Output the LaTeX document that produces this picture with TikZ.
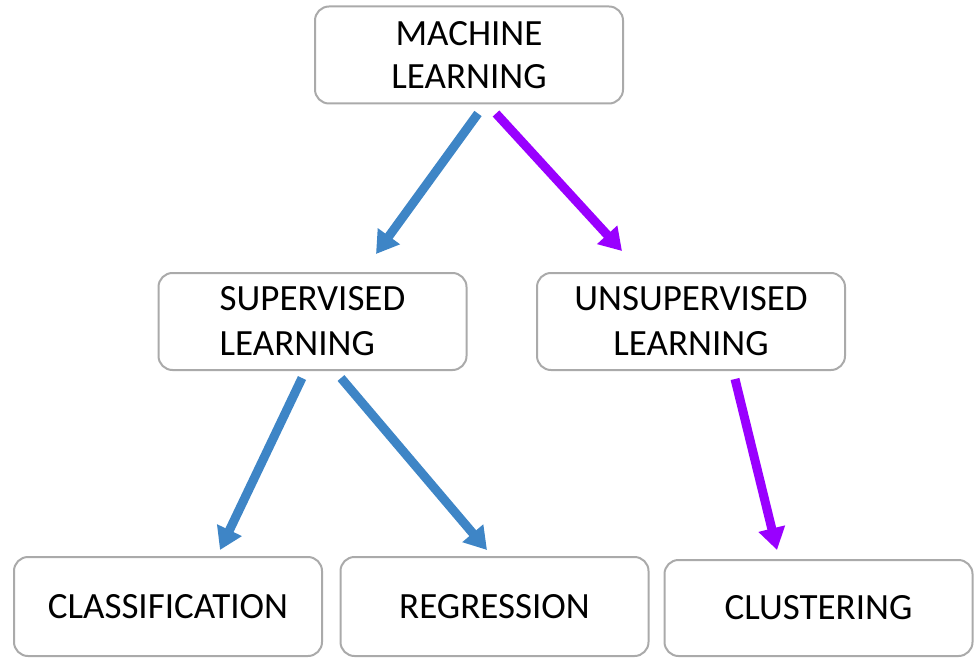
\documentclass[tikz,border=0pt]{standalone}
\usepackage{fontspec}
\setmainfont{Carlito}
\definecolor{mlblue}{RGB}{62, 133, 198}
\definecolor{mlpurple}{RGB}{153, 0, 255}
\definecolor{boxgrey}{RGB}{170, 170, 170}
\usepackage{tikz}
\usetikzlibrary{arrows.meta, positioning, calc}

\tikzset{
  mlbox/.style={draw=boxgrey, line width=1pt, rounded corners=7pt, align=center,
    minimum width=154pt, minimum height=48.5pt, inner sep=0pt,
    font=\fontsize{18.5}{21.5}\selectfont},
  blueline/.style={draw=mlblue, line width=4.5pt, -{Triangle[length=11pt, width=13pt]}},
  purpleline/.style={blueline, draw=mlpurple}
}

\begin{document}
\begin{tikzpicture}[x=0.5pt, y=-0.5pt]
  \useasboundingbox (0,0) rectangle (977,657);
  % boxes
  \node[mlbox] (ml) at (469,55) {MACHINE\\LEARNING};
  \node[mlbox, align=left, font=\fontsize{18.5}{22.5}\selectfont] (sl) at (312.5,321.5) {SUPERVISED\\LEARNING};
  \node[mlbox, font=\fontsize{18.5}{22.5}\selectfont] (ul) at (691,321.5) {UNSUPERVISED\\LEARNING};
  \node[mlbox, minimum height=49.5pt] (cl) at (168,606.5) {CLASSIFICATION};
  \node[mlbox, minimum height=49.5pt] (rg) at (494.5,606.5) {REGRESSION};
  \node[mlbox, minimum height=48pt] (cu) at (818.5,608) {CLUSTERING};
  % arrows
  \draw[blueline] ($(ml.south)+(9,9)$) -- ($(sl.north)+(63.5,-18)$);
  \draw[purpleline] ($(ml.south)+(27,9)$) -- ($(ul.north)+(-69,-21)$);
  \draw[blueline] ($(sl.south)+(-10.5,7)$) -- ($(cl.north)+(52,-6)$);
  \draw[blueline] ($(sl.south)+(28.5,7)$) -- ($(rg.north)+(-7.5,-6)$);
  \draw[purpleline] ($(ul.south)+(44,8)$) -- ($(cu.north)+(-41.5,-9)$);
\end{tikzpicture}
\end{document}
